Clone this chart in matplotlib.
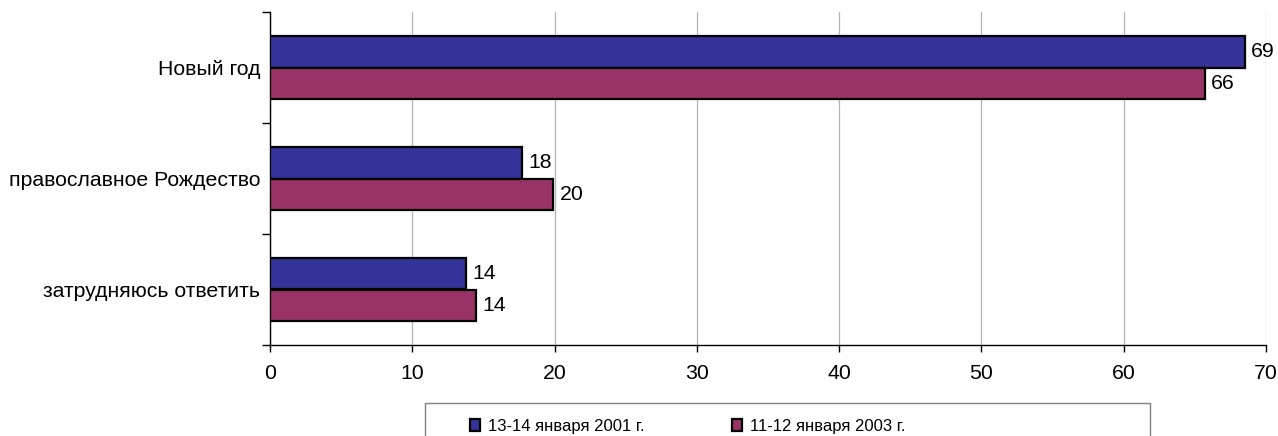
import matplotlib.pyplot as plt
import matplotlib.patches as patches
import numpy as np

plt.rcParams["font.family"] = ["Liberation Sans", "DejaVu Sans"]

categories = ["Новый год", "православное Рождество", "затрудняюсь ответить"]
series_names = ["13-14 января 2001 г.", "11-12 января 2003 г."]
values_2001 = [68.5, 17.7, 13.8]
values_2003 = [65.7, 19.9, 14.5]
labels_2001 = ["69", "18", "14"]
labels_2003 = ["66", "20", "14"]
colors = ["#333399", "#993366"]

fs = 15.3

fig = plt.figure(figsize=(12.78, 4.36), dpi=100)
ax = fig.add_axes([270 / 1278, 1 - 345 / 436, 996 / 1278, 333 / 436])

y = np.arange(len(categories))
h = 0.28
bars1 = ax.barh(y - h / 2, values_2001, height=h, color=colors[0],
                edgecolor="black", linewidth=1.6, label=series_names[0], zorder=3)
bars2 = ax.barh(y + h / 2, values_2003, height=h, color=colors[1],
                edgecolor="black", linewidth=1.6, label=series_names[1], zorder=3)

for bars, labs in ((bars1, labels_2001), (bars2, labels_2003)):
    for b, t in zip(bars, labs):
        ax.text(b.get_width() + 0.45, b.get_y() + b.get_height() / 2, t,
                ha="left", va="center", fontsize=fs)

ax.set_xlim(0, 70)
ax.set_ylim(len(categories) - 0.5, -0.5)
ax.set_xticks(np.arange(0, 71, 10))
ax.set_yticks(y)
ax.set_yticklabels(categories)
ax.set_yticks(np.arange(-0.5, len(categories), 1), minor=True)
ax.tick_params(axis="y", which="major", length=0, pad=7, labelsize=fs)
ax.tick_params(axis="y", which="minor", length=6, width=1)
ax.tick_params(axis="x", length=5, width=1, pad=9, labelsize=fs)

ax.grid(axis="x", color="#b4b4b4", linewidth=0.9, zorder=0)
ax.set_axisbelow(True)
for s in ("top", "right"):
    ax.spines[s].set_visible(False)
ax.spines["left"].set_linewidth(1)
ax.spines["bottom"].set_linewidth(1)

# legend frame, runs past the bottom edge like in the original
frame = patches.Rectangle((425 / 1278, 1 - 445 / 436), 725 / 1278, 42 / 436,
                          transform=fig.transFigure, fill=False,
                          edgecolor="#808080", linewidth=1)
fig.add_artist(frame)

leg = fig.legend(handles=[bars1, bars2], loc="center left", ncol=2,
                 bbox_to_anchor=(470 / 1278, 1 - 426 / 436),
                 borderaxespad=0, frameon=False, fontsize=12,
                 handlelength=0.6, handleheight=0.7, handletextpad=0.45,
                 columnspacing=5.3, borderpad=0)

fig.savefig("out.png", dpi=100)
